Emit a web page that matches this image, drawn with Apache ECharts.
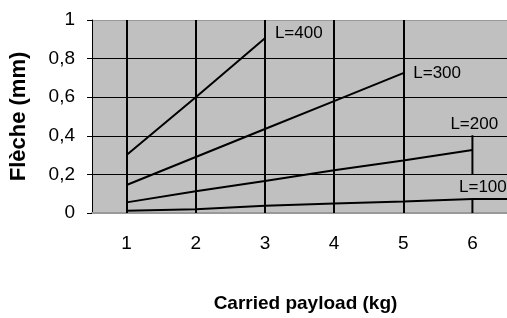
<!DOCTYPE html>
<html>
<head>
<meta charset="utf-8">
<script src="https://cdn.jsdelivr.net/npm/echarts@6/dist/echarts.min.js"></script>
<style>
  html, body { margin: 0; padding: 0; background: #fff; }
  #chart { width: 507px; height: 318px; }
</style>
</head>
<body>
<div id="chart"></div>
<script>
// payload (kg) for each measured point
const payload = [1, 2, 3, 4, 5, 6]
const gridX = [1, 2, 3, 4, 5]
const xLabels = ['1', '2', '3', '4', '5', '6']

// deflection (mm) per span length
const L400 = [0.30, 0.60, 0.905]
const L300 = [0.145, 0.29, 0.435, 0.58, 0.725]
const L200 = [0.055, 0.113, 0.166, 0.221, 0.272, 0.327]
const L100 = [0.012, 0.02, 0.037, 0.049, 0.06, 0.073]
const L100tail = [6.5, 0.073]

// little vertical bars at x=6
const capX = 6
const cap200 = [0.2, 0.403]
const cap100 = [0, 0.073]

const yTicks = ['0', '0,2', '0,4', '0,6', '0,8', '1']

const toPts = arr => arr.map((v, i) => [payload[i], v])

const FONT = '"Liberation Sans", Arial, sans-serif'

const lineStyle = { color: '#000', width: 2 }

const chart = echarts.init(document.getElementById('chart'))
chart.setOption({
  animation: false,
  grid: {
    left: 92, right: 0, top: 20, bottom: 104,
    show: true, backgroundColor: '#c0c0c0', borderWidth: 0
  },
  xAxis: [
    {
      type: 'value', min: 0.5, max: 6.5,
      axisLine: { show: true, lineStyle: { color: '#999', width: 2 } },
      axisTick: { show: false },
      axisLabel: { show: false },
      splitLine: { show: false }
    },
    {
      type: 'category', position: 'bottom', data: xLabels, boundaryGap: true,
      axisLine: { show: false },
      axisTick: { show: false },
      splitLine: { show: false },
      axisLabel: { margin: 21, fontSize: 19, color: '#000', fontFamily: FONT },
      name: 'Carried payload (kg)', nameLocation: 'middle', nameGap: 81,
      nameTextStyle: { fontSize: 19, fontWeight: 'bold', color: '#000', fontFamily: FONT, padding: [0, 0, 0, 12] }
    }
  ],
  yAxis: {
    type: 'value', min: 0, max: 1, interval: 0.2,
    axisLine: { show: true, lineStyle: { color: '#000', width: 1 } },
    axisTick: { show: true, length: 5, lineStyle: { color: '#000' } },
    axisLabel: {
      margin: 17, fontSize: 19, color: '#000', fontFamily: FONT,
      formatter: (v) => yTicks[Math.round(v / 0.2)]
    },
    splitLine: { show: true, lineStyle: { color: ['#999', '#000', '#000', '#000', '#000', '#999'], width: 1 } },
    name: 'Flèche (mm)', nameLocation: 'middle', nameGap: 62,
    nameTextStyle: { fontSize: 22, fontWeight: 'bold', color: '#000', fontFamily: FONT }
  },
  series: [
    {
      type: 'line', xAxisIndex: 0, data: [], silent: true,
      markLine: {
        symbol: 'none', silent: true, label: { show: false },
        lineStyle: { color: '#000', width: 2, type: 'solid' },
        data: gridX.map(x => ({ xAxis: x }))
      }
    },
    {
      name: 'L=400', type: 'line', data: toPts(L400), symbol: 'none', lineStyle,
      endLabel: { show: true, formatter: 'L=400', fontSize: 17, color: '#000', fontFamily: FONT, offset: [2, -5] }
    },
    {
      name: 'L=300', type: 'line', data: toPts(L300), symbol: 'none', lineStyle,
      endLabel: { show: true, formatter: 'L=300', fontSize: 17, color: '#000', fontFamily: FONT, offset: [2, 0] }
    },
    {
      name: 'L=200', type: 'line', data: toPts(L200), symbol: 'none', lineStyle,
      endLabel: { show: true, formatter: 'L=200', fontSize: 17, color: '#000', fontFamily: FONT, offset: [-30, -26] }
    },
    {
      name: 'L=100', type: 'line', data: toPts(L100).concat([L100tail]), symbol: 'none', lineStyle,
      endLabel: { show: true, formatter: 'L=100', fontSize: 17, color: '#000', fontFamily: FONT, offset: [-56, -12] }
    },
    {
      type: 'line', data: cap200.map(v => [capX, v]), symbol: 'none', lineStyle
    },
    {
      type: 'line', data: cap100.map(v => [capX, v]), symbol: 'none', lineStyle
    }
  ]
})
</script>
</body>
</html>
